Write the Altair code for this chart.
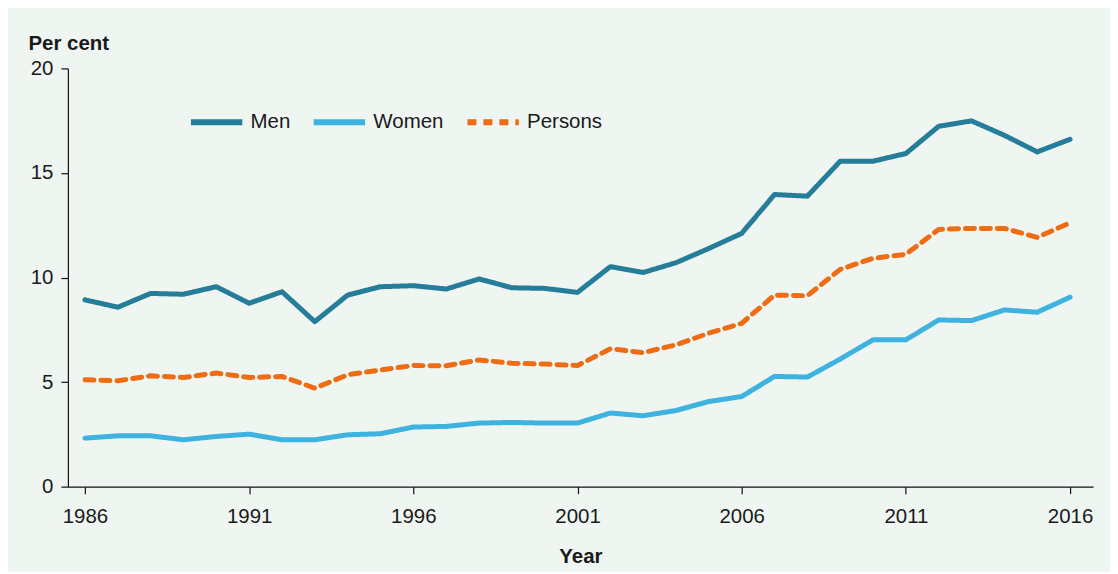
import altair as alt
import pandas as pd

years = list(range(1986, 2017))
men = [8.93, 8.58, 9.24, 9.20, 9.56, 8.77, 9.32, 7.89, 9.16, 9.56, 9.61, 9.45, 9.93, 9.51, 9.48, 9.29,
       10.52, 10.24, 10.71, 11.39, 12.11, 13.97, 13.89, 15.56, 15.56, 15.93, 17.23, 17.49, 16.80, 16.01, 16.61]
women = [2.32, 2.43, 2.43, 2.24, 2.40, 2.51, 2.24, 2.24, 2.48, 2.53, 2.85, 2.88, 3.04, 3.07, 3.04, 3.04,
         3.52, 3.39, 3.64, 4.07, 4.31, 5.27, 5.24, 6.10, 7.02, 7.02, 7.97, 7.94, 8.45, 8.34, 9.06]
persons = [5.11, 5.06, 5.30, 5.22, 5.43, 5.22, 5.27, 4.71, 5.35, 5.58, 5.79, 5.78, 6.06, 5.90, 5.86, 5.79,
           6.59, 6.41, 6.78, 7.34, 7.81, 9.16, 9.13, 10.39, 10.92, 11.11, 12.30, 12.35, 12.35, 11.92, 12.62]
series_names = ["Men", "Women", "Persons"]
series_colors = ["#267d99", "#3fb3e0", "#ee6c14"]
x_ticks = [1986, 1991, 1996, 2001, 2006, 2011, 2016]
y_ticks = [0, 5, 10, 15, 20]

rows = []
for name, vals in zip(series_names, [men, women, persons]):
    for y, v in zip(years, vals):
        rows.append({"Year": y, "Value": v, "Series": name})
df = pd.DataFrame(rows)

FONT = "Liberation Sans"
FS = 20.5

legend_kw = dict(title=None, orient="none", legendX=120, legendY=25,
                 direction="horizontal", symbolType="stroke",
                 symbolSize=2650, symbolStrokeWidth=6,
                 labelFontSize=FS, labelOffset=5, columnPadding=11)

chart = alt.Chart(df).mark_line(strokeWidth=5, strokeCap="round", strokeJoin="round").encode(
    x=alt.X("Year:Q",
            scale=alt.Scale(domain=[1985.48, 2016.7], nice=False, zero=False),
            axis=alt.Axis(values=x_ticks, format="d", title="Year", grid=False,
                          labelFontSize=FS, titleFontSize=FS, titleFontWeight="bold",
                          labelPadding=13, titlePadding=19, tickSize=7, labelFlush=False)),
    y=alt.Y("Value:Q",
            scale=alt.Scale(domain=[0, 20], nice=False),
            axis=alt.Axis(values=y_ticks, title="Per cent", grid=False,
                          labelFontSize=FS, titleFontSize=FS, titleFontWeight="bold",
                          titleAngle=0, titleAlign="left", titleBaseline="alphabetic",
                          titleX=-40, titleY=-19, labelPadding=8, tickSize=7)),
    color=alt.Color("Series:N",
                    scale=alt.Scale(domain=series_names, range=series_colors),
                    sort=series_names,
                    legend=alt.Legend(**legend_kw)),
    strokeDash=alt.StrokeDash("Series:N",
                              scale=alt.Scale(domain=series_names, range=[[1, 0], [1, 0], [9, 7]]),
                              sort=series_names,
                              legend=alt.Legend(**legend_kw)),
).properties(
    width=1027, height=419,
    autosize=alt.AutoSizeParams(type="none"),
    padding={"left": 60, "top": 60, "right": 17, "bottom": 85},
    background="#eff6f2",
).configure_view(
    stroke=None, fill="#eff6f2"
).configure_axis(
    domainColor="#111111", tickColor="#111111", labelColor="#1a1a1a", titleColor="#1a1a1a",
    labelFont=FONT, titleFont=FONT, domainWidth=1.2, tickWidth=1.2
).configure_legend(
    labelFont=FONT, labelColor="#1a1a1a"
)

chart.save("out.html", embed_options={"renderer": "svg", "actions": False})
